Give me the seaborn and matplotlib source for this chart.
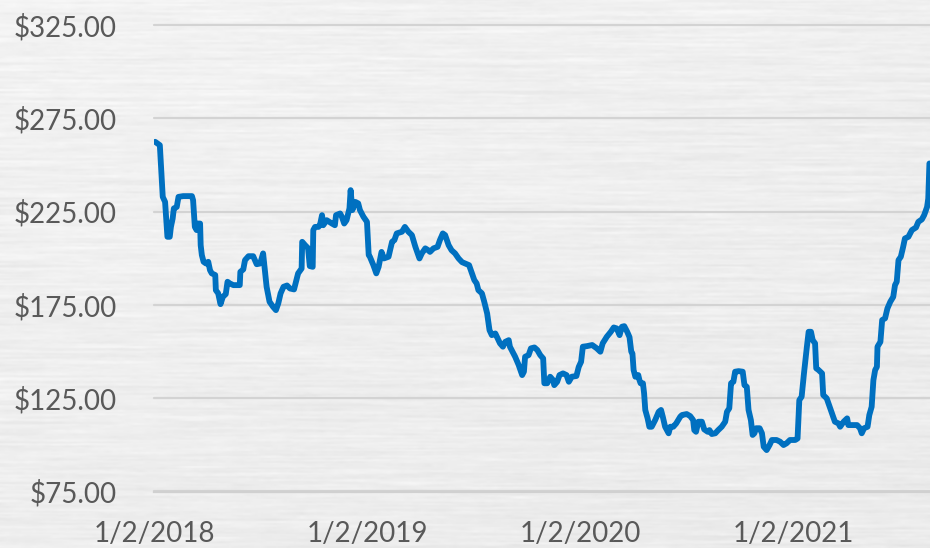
import numpy as np
import pandas as pd
import matplotlib
matplotlib.use("Agg")
import matplotlib.pyplot as plt
from matplotlib.ticker import FuncFormatter
import seaborn as sns

# Closing prices, 2018-01 through 2021-08
dates = [
    "2018-01-04", "2018-01-12", "2018-01-17", "2018-01-21", "2018-01-25", "2018-01-29", "2018-01-31",
    "2018-02-03", "2018-02-05", "2018-02-10", "2018-02-13", "2018-02-21", "2018-03-08", "2018-03-10",
    "2018-03-13", "2018-03-16", "2018-03-18", "2018-03-22", "2018-03-23", "2018-03-25", "2018-03-28",
    "2018-04-01", "2018-04-05", "2018-04-08", "2018-04-11", "2018-04-17", "2018-04-18", "2018-04-22",
    "2018-04-26", "2018-04-30", "2018-05-05", "2018-05-08", "2018-05-12", "2018-05-18", "2018-05-29",
    "2018-05-30", "2018-06-04", "2018-06-07", "2018-06-13", "2018-06-21", "2018-06-27", "2018-07-03",
    "2018-07-08", "2018-07-11", "2018-07-14", "2018-07-19", "2018-07-25", "2018-07-30", "2018-08-03",
    "2018-08-07", "2018-08-12", "2018-08-18", "2018-08-23", "2018-08-30", "2018-09-03", "2018-09-06",
    "2018-09-12", "2018-09-13", "2018-09-18", "2018-09-23", "2018-09-26", "2018-10-01", "2018-10-02",
    "2018-10-05", "2018-10-11", "2018-10-14", "2018-10-17", "2018-10-19", "2018-10-25", "2018-11-03",
    "2018-11-08", "2018-11-10", "2018-11-17", "2018-11-20", "2018-11-24", "2018-11-28", "2018-12-03",
    "2018-12-05", "2018-12-08", "2018-12-13", "2018-12-18", "2018-12-21", "2018-12-27",
    "2019-01-02", "2019-01-05", "2019-01-07", "2019-01-13", "2019-01-18", "2019-01-22", "2019-01-27",
    "2019-01-31", "2019-02-08", "2019-02-14", "2019-02-18", "2019-02-22", "2019-03-03", "2019-03-08",
    "2019-03-14", "2019-03-20", "2019-03-26", "2019-04-02", "2019-04-06", "2019-04-12", "2019-04-17",
    "2019-04-20", "2019-04-26", "2019-05-03", "2019-05-07", "2019-05-12", "2019-05-16", "2019-05-22",
    "2019-05-27", "2019-06-02", "2019-06-08", "2019-06-14", "2019-06-26", "2019-07-01", "2019-07-05",
    "2019-07-09", "2019-07-12", "2019-07-18", "2019-07-22", "2019-07-27", "2019-07-31", "2019-08-04",
    "2019-08-10", "2019-08-14", "2019-08-18", "2019-08-23", "2019-08-27", "2019-09-02", "2019-09-04",
    "2019-09-07", "2019-09-13", "2019-09-19", "2019-09-25", "2019-09-28", "2019-09-30", "2019-10-06",
    "2019-10-10", "2019-10-16", "2019-10-21", "2019-10-26", "2019-10-31", "2019-11-02", "2019-11-07",
    "2019-11-12", "2019-11-17", "2019-11-19", "2019-11-24", "2019-11-28", "2019-12-04", "2019-12-10",
    "2019-12-14", "2019-12-19", "2019-12-27", "2019-12-31",
    "2020-01-04", "2020-01-07", "2020-01-14", "2020-01-23", "2020-01-31", "2020-02-06", "2020-02-10",
    "2020-02-17", "2020-02-24", "2020-02-29", "2020-03-05", "2020-03-10", "2020-03-14", "2020-03-18",
    "2020-03-23", "2020-03-27", "2020-03-30", "2020-04-01", "2020-04-03", "2020-04-06", "2020-04-11",
    "2020-04-13", "2020-04-15", "2020-04-19", "2020-04-21", "2020-04-23", "2020-04-27", "2020-04-30",
    "2020-05-04", "2020-05-10", "2020-05-16", "2020-05-20", "2020-05-23", "2020-05-27", "2020-06-02",
    "2020-06-05", "2020-06-10", "2020-06-15", "2020-06-22", "2020-06-25", "2020-07-03", "2020-07-09",
    "2020-07-14", "2020-07-16", "2020-07-19", "2020-07-23", "2020-07-29", "2020-08-02", "2020-08-08",
    "2020-08-11", "2020-08-15", "2020-08-21", "2020-08-26", "2020-09-01", "2020-09-07", "2020-09-10",
    "2020-09-14", "2020-09-17", "2020-09-21", "2020-09-24", "2020-09-30", "2020-10-07", "2020-10-10",
    "2020-10-14", "2020-10-17", "2020-10-21", "2020-10-24", "2020-10-27", "2020-10-30", "2020-11-05",
    "2020-11-09", "2020-11-12", "2020-11-17", "2020-11-22", "2020-11-26", "2020-12-04", "2020-12-10",
    "2020-12-16", "2020-12-21", "2020-12-27",
    "2021-01-05", "2021-01-09", "2021-01-12", "2021-01-16", "2021-01-20", "2021-01-25", "2021-01-28",
    "2021-02-01", "2021-02-04", "2021-02-08", "2021-02-10", "2021-02-14", "2021-02-20", "2021-02-22",
    "2021-02-28", "2021-03-05", "2021-03-09", "2021-03-14", "2021-03-20", "2021-03-23", "2021-03-29",
    "2021-04-04", "2021-04-06", "2021-04-12", "2021-04-21", "2021-04-26", "2021-04-29", "2021-05-03",
    "2021-05-09", "2021-05-12", "2021-05-16", "2021-05-19", "2021-05-22", "2021-05-25", "2021-05-26",
    "2021-05-31", "2021-06-03", "2021-06-08", "2021-06-12", "2021-06-17", "2021-06-22", "2021-06-25",
    "2021-06-28", "2021-07-01", "2021-07-05", "2021-07-09", "2021-07-12", "2021-07-18", "2021-07-24",
    "2021-07-31", "2021-08-04", "2021-08-10", "2021-08-14", "2021-08-19", "2021-08-21", "2021-08-23",
]

prices = [
    262.4, 260.6, 232.9, 230.2, 211.5, 211.5, 216.8,
    221.3, 226.7, 227.5, 232.9, 233.3, 233.3, 231.1,
    216.8, 215.1, 218.6, 218.6, 207.0, 201.7, 198.1,
    197.2, 198.1, 193.6, 191.9, 191.0, 182.9, 181.2,
    175.4, 179.3, 180.8, 187.4, 186.5, 185.6, 185.6,
    192.7, 194.0, 199.0, 201.1, 201.1, 196.8, 197.2,
    202.6, 193.6, 184.7, 176.7, 174.0, 172.2, 175.8,
    181.2, 184.7, 185.4, 183.8, 183.3, 188.3, 191.9,
    194.5, 208.8, 207.0, 205.4, 195.8, 195.4, 215.1,
    216.8, 216.8, 218.6, 223.1, 217.7, 220.4, 218.6,
    217.7, 223.1, 224.0, 222.2, 218.6, 220.4, 226.7,
    236.5, 225.8, 230.2, 229.4, 225.8, 222.2,
    219.5, 201.7, 200.8, 196.3, 191.9, 195.4, 203.4,
    199.9, 200.8, 208.8, 209.7, 213.3, 214.2, 216.8,
    214.2, 212.4, 206.1, 199.9, 202.6, 205.3, 204.3,
    203.4, 205.3, 206.1, 209.7, 213.3, 212.4, 207.0,
    204.3, 202.6, 199.9, 197.9, 196.3, 191.9, 188.3,
    186.5, 182.9, 181.2, 176.7, 170.4, 161.5, 158.8,
    159.7, 157.1, 154.4, 152.6, 155.2, 156.1, 152.6,
    150.8, 147.2, 142.8, 137.4, 139.2, 147.2, 148.1,
    151.7, 152.2, 150.8, 148.1, 146.3, 133.0, 133.0,
    136.5, 134.7, 132.0, 133.8, 137.4, 138.3, 137.4,
    133.8, 136.5, 136.9, 141.8,
    144.5, 152.6, 152.9, 153.5, 151.7, 149.9, 154.4,
    157.9, 160.6, 162.9, 162.4, 158.8, 163.3, 163.6,
    160.6, 157.7, 149.9, 149.0, 140.1, 136.5, 137.4,
    134.7, 133.0, 133.0, 127.6, 118.7, 114.2, 109.7,
    109.7, 113.3, 117.7, 118.7, 115.1, 109.7, 106.2,
    109.7, 109.7, 111.5, 115.1, 116.0, 116.5, 115.4,
    113.3, 107.9, 107.0, 112.4, 112.4, 108.3, 107.0,
    107.9, 105.8, 106.2, 107.9, 109.7, 112.4, 117.7,
    119.6, 133.0, 133.8, 139.2, 139.5, 139.2, 132.0,
    131.1, 118.7, 113.3, 105.3, 106.2, 108.9, 108.9,
    106.2, 99.0, 97.2, 99.9, 102.6, 102.6, 101.7,
    99.9, 100.8, 102.6,
    102.6, 103.4, 124.0, 125.8, 138.3, 152.6, 160.6,
    160.6, 156.1, 154.4, 141.0, 140.1, 138.3, 126.7,
    124.9, 120.4, 116.9, 112.4, 111.5, 109.7, 112.4,
    114.2, 110.6, 110.6, 110.6, 108.9, 106.2, 108.9,
    109.7, 116.0, 120.4, 134.7, 140.1, 141.8, 152.6,
    155.2, 166.9, 167.8, 173.1, 176.7, 179.3, 185.6,
    187.4, 199.0, 200.8, 206.1, 210.6, 211.5, 215.1,
    216.5, 219.5, 220.8, 223.1, 227.5, 232.0, 250.8,
]

price_ticks = [75, 125, 175, 225, 275, 325]
date_ticks = ["2018-01-02", "2019-01-02", "2020-01-02", "2021-01-02"]
date_tick_labels = ["1/2/2018", "1/2/2019", "1/2/2020", "1/2/2021"]

df = pd.DataFrame({"date": pd.to_datetime(dates), "price": prices})

sns.set_theme(style="white")
plt.rcParams["font.family"] = ["Lato", "DejaVu Sans"]

W, H = 930, 548
fig = plt.figure(figsize=(W / 100, H / 100), dpi=100)

# brushed-metal backdrop: horizontal streaks over a soft gray gradient
rng = np.random.default_rng(11)


def streaks(ncols, amp):
    coarse = rng.normal(0.0, 1.0, size=(H, ncols))
    xs = np.linspace(0, ncols - 1, W)
    xp = np.arange(ncols)
    return amp * np.array([np.interp(xs, xp, row) for row in coarse])


tex = streaks(10, 0.014) + streaks(35, 0.010) + streaks(140, 0.006)
tex = 0.25 * np.roll(tex, 1, axis=0) + 0.5 * tex + 0.25 * np.roll(tex, -1, axis=0)
yy, xx = np.mgrid[0:H, 0:W]
base = 0.95 - 0.02 * (yy / H) - 0.012 * (xx / W)
img = np.clip(base + tex, 0, 1)

bg = fig.add_axes([0, 0, 1, 1], zorder=-10)
bg.imshow(img, cmap="gray", vmin=0, vmax=1, aspect="auto", interpolation="bilinear")
bg.axis("off")

left, right, top, bottom = 154, 930, 25, 491.5
ax = fig.add_axes([left / W, 1 - bottom / H, (right - left) / W, (bottom - top) / H])
ax.patch.set_alpha(0)

sns.lineplot(data=df, x="date", y="price", ax=ax, color="#0070C0",
             linewidth=4.2, solid_joinstyle="round", solid_capstyle="round")

ax.set_xlim(pd.Timestamp("2018-01-02"), pd.Timestamp("2021-08-24"))
ax.set_ylim(price_ticks[0], price_ticks[-1])
ax.set_yticks(price_ticks)
ax.yaxis.set_major_formatter(FuncFormatter(lambda v, _: f"${v:,.2f}"))
ax.set_xticks(pd.to_datetime(date_ticks))
ax.set_xticklabels(date_tick_labels)
ax.set_xlabel("")
ax.set_ylabel("")

ax.set_axisbelow(True)
ax.grid(axis="y", color="#d3d3d3", linewidth=1.6)
ax.grid(axis="x", visible=False)
for gl in ax.get_ygridlines():
    gl.set_clip_on(False)

for side in ("top", "right", "left"):
    ax.spines[side].set_visible(False)
ax.spines["bottom"].set_color("#d0d0d0")
ax.spines["bottom"].set_linewidth(1.6)

label_color = "#595959"
ax.tick_params(axis="y", length=0, pad=27, labelsize=20, labelcolor=label_color)
ax.tick_params(axis="x", direction="out", length=7, width=1.2, color="#c8c8c8",
               pad=14, labelsize=20, labelcolor=label_color)

fig.savefig("out.png", dpi=100)
